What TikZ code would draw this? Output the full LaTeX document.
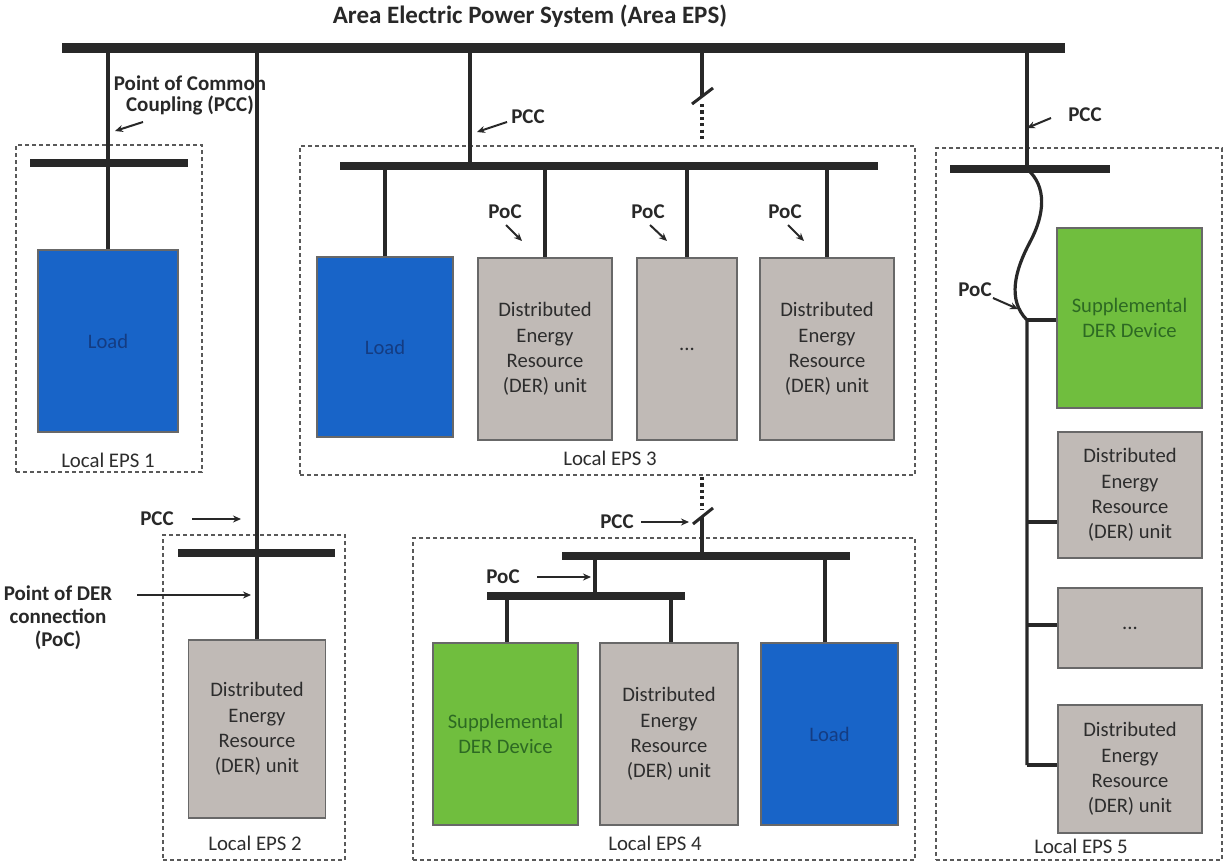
\documentclass[tikz,border=0pt]{standalone}
\usepackage{fontspec}
\setmainfont{Carlito}
\usetikzlibrary{arrows.meta}
\definecolor{loadblue}{RGB}{24,100,200}
\definecolor{loadtext}{RGB}{20,60,130}
\definecolor{supgreen}{RGB}{112,190,62}
\definecolor{suptext}{RGB}{45,105,35}
\definecolor{dergray}{RGB}{192,186,182}
\definecolor{dertext}{RGB}{45,45,45}
\definecolor{linecol}{RGB}{40,40,40}
\begin{document}
\begin{tikzpicture}[x=0.5pt,y=-0.5pt,
  mainbus/.style={line width=5pt, draw=linecol},
  busline/.style={line width=4pt, draw=linecol},
  wirel/.style={line width=1.6pt, draw=linecol},
  devbox/.style={draw=linecol!70, line width=0.6pt, inner sep=0pt, align=center, font=\fontsize{10.3}{12.6}\selectfont},
  loadbox/.style={devbox, fill=loadblue, text=loadtext},
  derbox/.style={devbox, fill=dergray, text=dertext},
  supbox/.style={devbox, fill=supgreen, text=suptext},
  epsbox/.style={draw=gray!70!black, dash pattern=on 2pt off 1.5pt, line width=0.6pt, inner sep=0pt},
  lbl/.style={font=\bfseries\fontsize{10.5}{10.5}\selectfont, text=linecol, inner sep=0pt, align=center},
  epslbl/.style={font=\fontsize{10.4}{12}\selectfont, text=dertext, inner sep=0pt},
  pointer/.style={line width=1pt, draw=linecol, -{Stealth[length=4pt,width=3.5pt]}},
  swline/.style={line width=1.5pt, draw=linecol},
  dotline/.style={line width=1.6pt, draw=linecol, dash pattern=on 1.6pt off 1.6pt},
]
\fill[white] (0,0) rectangle (1225,863);
\useasboundingbox (0,0) rectangle (1225,863);

% title and main bus
\node[font=\bfseries\fontsize{12.5}{14}\selectfont, text=linecol] (title) at (530,16) {Area Electric Power System (Area EPS)};
\coordinate (mbL) at (62,48);
\coordinate (mbR) at (1065,48);
\draw[mainbus] (mbL) -- (mbR);

% ---------- Local EPS 1
\node[epsbox, minimum width=93pt, minimum height=163.5pt] (eps1) at (109,308.5) {};
\coordinate (b1L) at (30,163);
\coordinate (b1R) at (188,163);
\draw[busline] (b1L) -- (b1R);
\node[loadbox, minimum width=70pt, minimum height=91pt] (load1) at (108,341) {Load};
\draw[wirel] (load1.north |- mbL) -- (load1.north);
\node[epslbl] (l1) at (108,460) {Local EPS 1};
\node[lbl] (pcc1) at (190,95) {Point of Common\\Coupling (PCC)};
\coordinate (p1s) at (143,122);
\coordinate (p1e) at (115,131);
\draw[pointer] (p1s) -- (p1e);

% ---------- Local EPS 2
\node[epsbox, minimum width=91pt, minimum height=162.5pt] (eps2) at (254,697.5) {};
\coordinate (b2L) at (178,553);
\coordinate (b2R) at (335,553);
\draw[busline] (b2L) -- (b2R);
\node[derbox, minimum width=68.5pt, minimum height=89pt] (der2) at (257,729) {Distributed\\Energy\\Resource\\(DER) unit};
\draw[wirel] (der2.north |- mbL) -- (der2.north);
\node[epslbl] (l2) at (255,843) {Local EPS 2};
\node[lbl] (pcc2) at (157,519) {PCC};
\coordinate (p2s) at (192,519);
\coordinate (p2e) at (241,519);
\draw[pointer] (p2s) -- (p2e);
\node[lbl, font=\bfseries\fontsize{10.5}{11.5}\selectfont] (poc2) at (58,618) {Point of DER\\connection\\(PoC)};
\coordinate (q2s) at (137,595);
\coordinate (q2e) at (251,595);
\draw[pointer] (q2s) -- (q2e);

% ---------- Local EPS 3
\node[epsbox, minimum width=307.5pt, minimum height=164.5pt] (eps3) at (607.5,310.5) {};
\coordinate (b3L) at (340,166);
\coordinate (b3R) at (878,166);
\draw[busline] (b3L) -- (b3R);
\coordinate (v3) at (470,166);
\draw[wirel] (v3 |- mbL) -- (v3);
\node[lbl] (pcc3) at (528,117) {PCC};
\coordinate (p3s) at (507,122);
\coordinate (p3e) at (477,132);
\draw[pointer] (p3s) -- (p3e);
\node[loadbox, minimum width=68pt, minimum height=90pt] (load3) at (385,347) {Load};
\node[derbox, minimum width=67pt, minimum height=91pt] (der3a) at (545,349) {Distributed\\Energy\\Resource\\(DER) unit};
\node[derbox, minimum width=50pt, minimum height=91pt] (dots3) at (687,349) {...};
\node[derbox, minimum width=67pt, minimum height=91pt] (der3b) at (827,349) {Distributed\\Energy\\Resource\\(DER) unit};
\draw[wirel] (load3.north |- b3L) -- (load3.north);
\draw[wirel] (der3a.north |- b3L) -- (der3a.north);
\draw[wirel] (dots3.north |- b3L) -- (dots3.north);
\draw[wirel] (der3b.north |- b3L) -- (der3b.north);
\node[lbl] (poc3a) at (505,212) {PoC};
\node[lbl] (poc3b) at (648,212) {PoC};
\node[lbl] (poc3c) at (785,212) {PoC};
\coordinate (q3as) at (506,225);
\coordinate (q3ae) at (522,241);
\coordinate (q3bs) at (650,225);
\coordinate (q3be) at (667,241);
\coordinate (q3cs) at (788,225);
\coordinate (q3ce) at (804,241);
\draw[pointer] (q3as) -- (q3ae);
\draw[pointer] (q3bs) -- (q3be);
\draw[pointer] (q3cs) -- (q3ce);
\node[epslbl] (l3) at (610,458) {Local EPS 3};

% switch between main bus and EPS 4 (top part)
\coordinate (sw1top) at (702,48);
\coordinate (sw1a) at (702,96);
\coordinate (sw1b) at (702,104);
\coordinate (sw1c) at (702,141);
\coordinate (sl1a) at (692,104);
\coordinate (sl1b) at (713,88);
\draw[wirel] (sw1top) -- (sw1a);
\draw[swline] (sl1a) -- (sl1b);
\draw[dotline] (sw1b) -- (sw1c);

% ---------- Local EPS 4
\node[epsbox, minimum width=251pt, minimum height=161pt] (eps4) at (664,699) {};
\coordinate (b4L) at (562,556);
\coordinate (b4R) at (850,556);
\draw[busline] (b4L) -- (b4R);
\coordinate (sb4L) at (487,596);
\coordinate (sb4R) at (685,596);
\draw[busline] (sb4L) -- (sb4R);
\coordinate (sw2a) at (702,477);
\coordinate (sw2b) at (702,510);
\coordinate (sw2c) at (702,517);
\coordinate (sw2d) at (702,556);
\coordinate (sl2a) at (693,524);
\coordinate (sl2b) at (713,508);
\draw[dotline] (sw2a) -- (sw2b);
\draw[swline] (sl2a) -- (sl2b);
\draw[wirel] (sw2c) -- (sw2d);
\node[lbl] (pcc4) at (617,522) {PCC};
\coordinate (p4s) at (641,522);
\coordinate (p4e) at (689,522);
\draw[pointer] (p4s) -- (p4e);
\coordinate (v4) at (595,556);
\draw[wirel] (v4) -- (v4 |- sb4L);
\node[lbl] (poc4) at (503,577) {PoC};
\coordinate (q4s) at (537,577);
\coordinate (q4e) at (591,577);
\draw[pointer] (q4s) -- (q4e);
\node[supbox, minimum width=72.5pt, minimum height=91pt] (sup4) at (505.5,734) {Supplemental\\DER Device};
\node[derbox, minimum width=69pt, minimum height=91pt] (der4) at (669,734) {Distributed\\Energy\\Resource\\(DER) unit};
\node[loadbox, minimum width=68.5pt, minimum height=91pt] (load4) at (829.5,734) {Load};
\coordinate (c4a) at (507,596);
\coordinate (c4b) at (671,596);
\coordinate (c4c) at (825,556);
\draw[wirel] (c4a) -- (c4a |- sup4.north);
\draw[wirel] (c4b) -- (c4b |- der4.north);
\draw[wirel] (c4c) -- (c4c |- load4.north);
\node[epslbl] (l4) at (655,843) {Local EPS 4};

% ---------- Local EPS 5
\node[epsbox, minimum width=143pt, minimum height=356pt] (eps5) at (1079,504) {};
\coordinate (b5L) at (950,169);
\coordinate (b5R) at (1110,169);
\draw[busline] (b5L) -- (b5R);
\coordinate (v5) at (1027,169);
\draw[wirel] (v5 |- mbL) -- (v5);
\node[lbl] (pcc5) at (1085,115) {PCC};
\coordinate (p5s) at (1051,118);
\coordinate (p5e) at (1027,128);
\draw[pointer] (p5s) -- (p5e);
\node[supbox, minimum width=72.5pt, minimum height=90pt] (sup5) at (1129.5,318) {Supplemental\\DER Device};
\node[derbox, minimum width=72pt, minimum height=63pt] (der5a) at (1130,495) {Distributed\\Energy\\Resource\\(DER) unit};
\node[derbox, minimum width=72pt, minimum height=40pt] (dots5) at (1130,628) {...};
\node[derbox, minimum width=72pt, minimum height=64pt] (der5b) at (1130,769) {Distributed\\Energy\\Resource\\(DER) unit};
\coordinate (s1) at (1027,320);
\coordinate (s2) at (1027,522);
\coordinate (s3) at (1027,625);
\coordinate (s4) at (1027,765);
\draw[wirel] (v5) .. controls (1047,186) and (1045,214) .. (1030,242) .. controls (1015,270) and (1007,300) .. (s1) -- (s4);
\draw[wirel] (s1) -- (s1 -| sup5.west);
\draw[wirel] (s2) -- (s2 -| der5a.west);
\draw[wirel] (s3) -- (s3 -| dots5.west);
\draw[wirel] (s4) -- (s4 -| der5b.west);
\node[lbl] (poc5) at (975,290) {PoC};
\coordinate (q5s) at (993,298);
\coordinate (q5e) at (1018,309);
\draw[pointer] (q5s) -- (q5e);
\node[epslbl] (l5) at (1081,846) {Local EPS 5};
\end{tikzpicture}
\end{document}
